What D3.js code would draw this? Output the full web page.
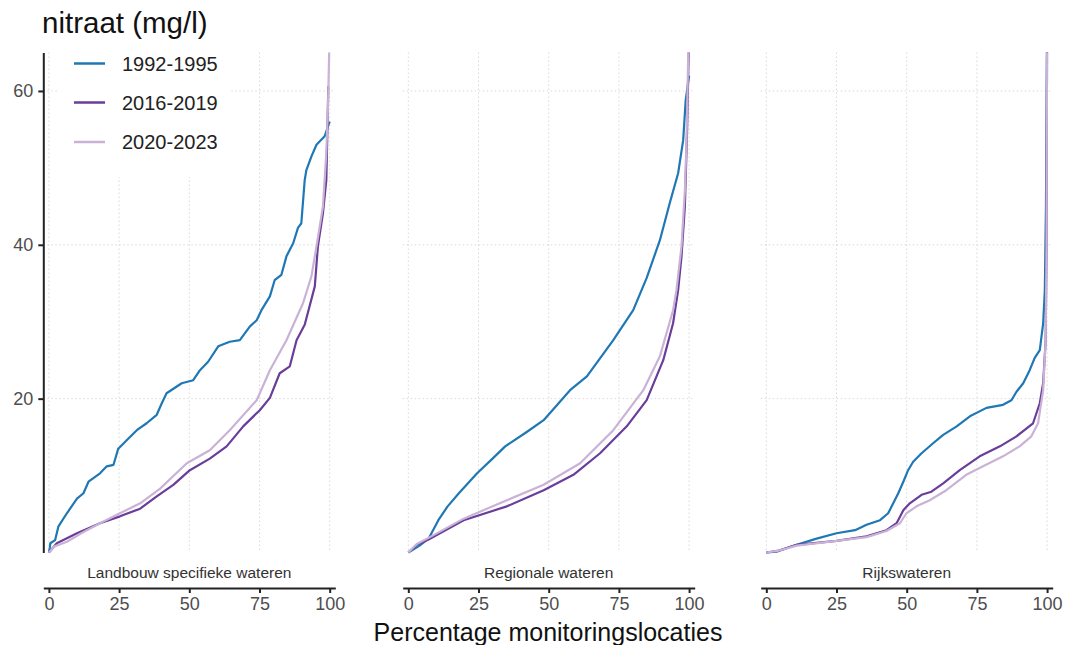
<!DOCTYPE html>
<html><head><meta charset="utf-8">
<script src="https://cdn.jsdelivr.net/npm/d3@7"></script>
<style>body{margin:0;background:#fff;}svg{display:block;font-family:"Liberation Sans",Arial,sans-serif;}</style>
</head><body><svg id="c" width="1072" height="645"></svg>
<script>
const seriesNames = ["1992-1995","2016-2019","2020-2023"];
const seriesColors = ["#1f78b4","#6a3d9a","#cab2d6"];
const panelNames = ["Landbouw specifieke wateren","Regionale wateren","Rijkswateren"];
const xTicks = [0,25,50,75,100];
const yTicks = [20,40,60];

// [percentage of locations, nitrate mg/l]
const landbouw1992 = [[0,0],[0.3,0.6],[0.5,1.2],[2.2,1.6],[3.4,3.4],[6.4,5.1],[10,7.0],[12.3,7.7],[14.1,9.2],[18.2,10.3],[20.6,11.2],[23,11.4],[24.7,13.5],[27.7,14.6],[31.3,15.9],[34.8,16.8],[38.4,17.9],[40.2,19.4],[41.9,20.7],[47.3,22.0],[51.4,22.4],[53.8,23.7],[56.7,24.8],[60.3,26.8],[64.4,27.4],[68,27.6],[71.6,29.4],[74,30.2],[75.7,31.5],[78.7,33.3],[80.4,35.4],[82.8,36.1],[84.6,38.5],[87,40.2],[88.7,42.2],[89.9,42.8],[91.1,48.4],[91.7,49.7],[93.5,51.5],[95.3,53.0],[98.2,54.1],[99.4,55.4],[100,56]];
const landbouw2016 = [[0,0],[2.8,1.2],[10,2.5],[18.2,3.8],[25.3,4.7],[32.5,5.7],[38.4,7.3],[44.3,8.8],[50.2,10.7],[57.3,12.2],[63.3,13.8],[69.2,16.4],[75.1,18.5],[78.7,20.1],[82.2,23.3],[85.8,24.2],[88.2,27.6],[91.1,29.6],[94.7,34.6],[95.8,39.8],[97.6,44.1],[98.8,48.4],[99.2,55],[99.5,60.6]];
const landbouw2020 = [[0,0],[2,0.8],[6.4,1.4],[12,2.6],[18.2,3.8],[25.3,5.1],[32.5,6.4],[39.6,8.3],[49.1,11.6],[57.3,13.3],[64.4,15.9],[74,19.8],[78.7,23.7],[84.6,27.6],[90.5,32.4],[93.5,35.9],[95.3,39.8],[97.6,45],[98.8,52],[99.4,58],[100,68]];
const regionaal1992 = [[0,0],[4,0.9],[7.2,1.8],[10.7,4.2],[14,6],[18,7.7],[24.5,10.3],[30,12.2],[34.5,13.8],[42.3,15.7],[48.2,17.2],[57.6,21.1],[63.6,22.9],[73,27.6],[80.1,31.5],[84.9,35.7],[89.6,40.6],[93.1,45.4],[96.1,49.3],[97.9,53.6],[98.8,58.8],[100,62]];
const regionaal2016 = [[0,0],[3,1.0],[7.2,1.7],[19.7,4.2],[35.1,6.0],[48.2,8.1],[58.8,10.1],[68.3,12.9],[77.8,16.4],[84.9,19.8],[90.8,25.0],[94.3,29.8],[96.1,34.1],[97.3,38.5],[98.5,45],[99.3,55],[100,68]];
const regionaal2020 = [[0,0],[3,1.1],[7.2,1.9],[19.7,4.4],[35.1,6.8],[48.2,8.8],[61.2,11.6],[73,15.9],[83.7,21.1],[89.6,25.5],[94.3,31.5],[95.5,34.1],[97.3,39.8],[98.5,47.1],[99.1,53.6],[99.7,65],[100,70]];
const rijks1992 = [[0,0],[3.7,0.1],[10.8,1.0],[17.9,1.8],[25,2.5],[31.6,2.9],[35.7,3.6],[40.5,4.2],[43.4,5.1],[45.2,6.4],[47,7.7],[48.8,9.2],[50.5,10.7],[52.3,11.8],[55.3,12.9],[59.4,14.2],[63,15.3],[67.8,16.4],[72.5,17.7],[78.4,18.8],[84.3,19.2],[87.3,19.8],[89.1,20.9],[91.5,22.0],[93.8,23.7],[95.6,25.3],[97.4,26.3],[98.6,29.8],[99.2,34.1],[99.6,45],[100,68]];
const rijks2016 = [[0,0],[4,0.2],[10.8,1.0],[25,1.5],[35.7,2.1],[42.8,2.9],[46.4,3.8],[48.8,5.5],[51.1,6.4],[55.3,7.5],[58.8,7.9],[63,9.0],[68.9,10.7],[76,12.5],[83.2,13.8],[89.1,15.1],[95,16.8],[97.4,19.4],[98.6,22],[99.5,27.6],[99.8,40],[100,68]];
const rijks2020 = [[0,0],[4,0.2],[10.8,0.9],[25,1.5],[35.7,2.0],[42.8,2.8],[47.6,3.8],[49.9,5.1],[53.5,6.0],[58.2,6.8],[64.1,8.1],[71.2,10.1],[77.2,11.2],[84.3,12.5],[90.2,13.8],[94.4,15.1],[96.8,16.8],[98.6,21.1],[99.5,27.6],[99.8,40],[100,68]];

const panelData = [
  [landbouw1992, landbouw2016, landbouw2020],
  [regionaal1992, regionaal2016, regionaal2020],
  [rijks1992, rijks2016, rijks2020]
];

const svg = d3.select("#c");
const panelLefts = [43.3, 402.7, 760.7];
const panelW = 292;
const yTop = 52.5, yBot = 552.5, xAxisY = 588;
const y = d3.scaleLinear().domain([0,65]).range([yBot, yTop]);
const gridCol = "#d9d9d9";

svg.append("defs").selectAll("clipPath").data(panelLefts).join("clipPath")
  .attr("id",(d,i)=>"clip"+i).append("rect")
  .attr("x",d=>d).attr("y",yTop).attr("width",panelW).attr("height",yBot-yTop+2);

panelLefts.forEach((left,pi)=>{
  const x = d3.scaleLinear().domain([-2,102]).range([left,left+panelW]);
  const g = svg.append("g");
  g.selectAll(".vg").data(xTicks).join("line")
    .attr("x1",d=>x(d)).attr("x2",d=>x(d)).attr("y1",yTop).attr("y2",yBot)
    .attr("stroke",gridCol).attr("stroke-width",1).attr("stroke-dasharray","1.5,2.5");
  g.selectAll(".hg").data(yTicks).join("line")
    .attr("x1",left).attr("x2",left+panelW).attr("y1",d=>y(d)).attr("y2",d=>y(d))
    .attr("stroke",gridCol).attr("stroke-width",1).attr("stroke-dasharray","1.5,2.5");
  if(pi===0){
    g.append("rect").attr("x",57).attr("y",45).attr("width",173).attr("height",132).attr("fill","#fff");
  }
  const line = d3.line().x(d=>x(d[0])).y(d=>y(d[1]));
  g.append("g").attr("clip-path",`url(#clip${pi})`)
    .selectAll("path").data(panelData[pi]).join("path")
    .attr("d",line).attr("fill","none")
    .attr("stroke",(d,i)=>seriesColors[i]).attr("stroke-width",2.2)
    .attr("stroke-linejoin","round");
  const xa = g.append("g").attr("transform",`translate(0,${xAxisY})`)
    .call(d3.axisBottom(x).tickValues(xTicks).tickSize(5).tickPadding(4).tickSizeOuter(0));
  xa.select(".domain").attr("stroke","#222").attr("stroke-width",2);
  xa.selectAll(".tick line").attr("stroke","#222").attr("stroke-width",2);
  xa.selectAll(".tick text").attr("fill","#4d4d4d").attr("font-size",18)
    .attr("font-family","Liberation Sans, Arial, sans-serif");
  g.append("text").attr("x",x(50)).attr("y",577.5).attr("text-anchor","middle")
    .attr("font-size",15.5).attr("fill","#333").text(panelNames[pi]);
  if(pi===0){
    const ya = g.append("g").attr("transform",`translate(${left},0)`)
      .call(d3.axisLeft(y).tickValues(yTicks).tickSize(5).tickPadding(5).tickSizeOuter(0));
    ya.select(".domain").attr("stroke","#222").attr("stroke-width",2);
    ya.selectAll(".tick line").attr("stroke","#222").attr("stroke-width",2);
    ya.selectAll(".tick text").attr("fill","#4d4d4d").attr("font-size",18)
      .attr("font-family","Liberation Sans, Arial, sans-serif");
  }
});

svg.append("text").attr("x",42).attr("y",33).attr("font-size",29.5).attr("fill","#111").text("nitraat (mg/l)");
svg.append("text").attr("x",548).attr("y",641).attr("text-anchor","middle").attr("font-size",25).attr("fill","#111").text("Percentage monitoringslocaties");

const leg = svg.append("g");
const legY = [63.5, 102.5, 142];
seriesNames.forEach((n,i)=>{
  leg.append("line").attr("x1",74).attr("x2",105).attr("y1",legY[i]).attr("y2",legY[i])
    .attr("stroke",seriesColors[i]).attr("stroke-width",2.5);
  leg.append("text").attr("x",122).attr("y",legY[i]+7).attr("font-size",20).attr("fill","#222").text(n);
});
</script></body></html>
